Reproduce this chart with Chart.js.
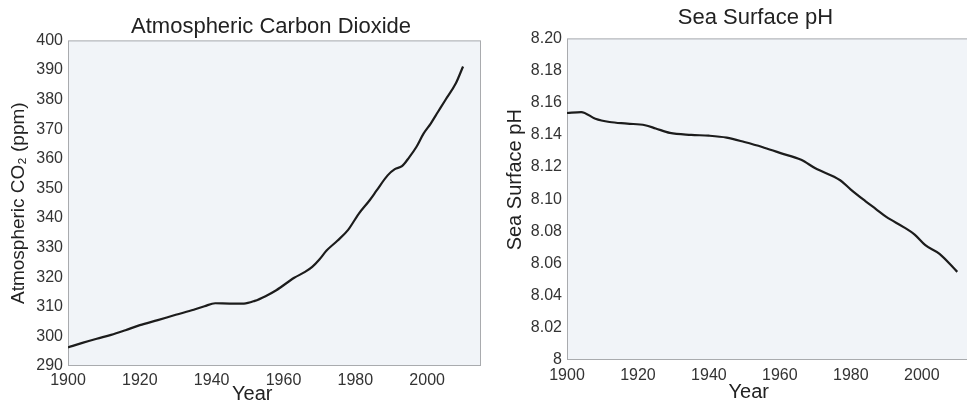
<!DOCTYPE html>
<html>
<head>
<meta charset="utf-8">
<script src="https://cdn.jsdelivr.net/npm/chart.js"></script>
<style>
    html, body {
        margin: 0;
        padding: 0;
        width: 967px;
        height: 404px;
        overflow: hidden;
        background: #fff;
    }
    .panel {
        position: absolute;
        top: 0;
        height: 404px;
    }
    #co2-panel { left: 0; width: 490px; }
    #ph-panel { left: 487px; width: 490px; }
</style>
</head>
<body>
<div class="panel" id="co2-panel"><canvas id="co2-plot"></canvas></div>
<div class="panel" id="ph-panel"><canvas id="ph-plot"></canvas></div>
<script>
const co2Years = [1900, 1904, 1908, 1912, 1916, 1920, 1925, 1930, 1935, 1938, 1941, 1945, 1949, 1952, 1955, 1958,
    1963, 1966, 1968, 1970, 1972, 1975, 1978, 1981, 1984, 1986, 1989, 1991, 1993, 1995, 1997, 1999, 2001, 2003,
    2005, 2008, 2010];
const co2Values = [296.3, 297.8, 299.2, 300.5, 302.1, 303.8, 305.5, 307.3, 309.0, 310.2, 311.2, 311.1, 311.1, 312.0,
    313.6, 315.6, 319.8, 321.8, 323.5, 326.0, 329.0, 332.3, 336.0, 341.5, 346.0, 349.4, 354.4, 356.5, 357.5, 360.5,
    364.0, 368.5, 371.9, 375.8, 379.7, 385.5, 391.2];

const phYears = [1900, 1904, 1908, 1912, 1917, 1922, 1925, 1929, 1935, 1940, 1945, 1950, 1955, 1960, 1966, 1970,
    1977, 1980, 1984, 1987, 1990, 1995, 1998, 2001, 2005, 2010];
const phValues = [8.1536, 8.1542, 8.150, 8.148, 8.147, 8.146, 8.144, 8.1412, 8.1400, 8.1395, 8.1383, 8.1356, 8.1325,
    8.1288, 8.1245, 8.1192, 8.1118, 8.1060, 8.099, 8.094, 8.089, 8.0825, 8.078, 8.0714, 8.066, 8.0548];

const yearTicks = [1900, 1920, 1940, 1960, 1980, 2000];

const FONT = "'Liberation Sans', Arial, sans-serif";
const TEXT = "#333";

// plot area background + frame
const plotFrame = {
    id: "plotFrame",
    beforeDatasetsDraw(chart) {
        const {ctx, chartArea: a} = chart;
        ctx.save();
        ctx.fillStyle = "#f1f4f8";
        ctx.fillRect(a.left, a.top, a.right - a.left, a.bottom - a.top);
        ctx.strokeStyle = "#a9abae";
        ctx.lineWidth = 1;
        ctx.strokeRect(a.left + 0.5, a.top + 0.5, a.right - a.left - 1, a.bottom - a.top - 1);
        ctx.restore();
    }
};

function makeChart(id, years, values, opts) {
    return new Chart(document.getElementById(id), {
        type: "line",
        data: {
            datasets: [{
                data: years.map((y, i) => ({x: y, y: values[i]})),
                borderColor: "#1c1c1c",
                borderWidth: 2.2,
                pointRadius: 0,
                tension: 0.3,
                cubicInterpolationMode: "monotone",
                fill: false,
            }]
        },
        options: {
            responsive: true,
            maintainAspectRatio: false,
            animation: false,
            layout: {padding: {left: 0, right: opts.padRight, top: 0, bottom: 0}},
            plugins: {
                legend: {display: false},
                tooltip: {enabled: false},
                title: {
                    display: true,
                    text: opts.title,
                    color: "#222",
                    font: {family: FONT, size: 22, weight: "normal", lineHeight: 1.2},
                    padding: opts.titlePad,
                },
            },
            scales: {
                x: {
                    type: "linear",
                    min: 1900,
                    max: 2015,
                    afterBuildTicks: (scale) => {
                        scale.ticks = yearTicks.map(v => ({value: v}));
                    },
                    afterFit: (scale) => { scale.height = opts.xHeight; },
                    grid: {display: false, drawTicks: false},
                    border: {display: false},
                    ticks: {
                        color: TEXT,
                        padding: opts.xTickPad,
                        maxRotation: 0,
                        autoSkip: false,
                        font: {family: FONT, size: 16},
                        callback: (v) => String(v),
                    },
                    title: {
                        display: true,
                        // trailing spaces nudge the label left of centre, as in the original
                        text: "Year        ",
                        color: "#222",
                        font: {family: FONT, size: 20, lineHeight: 1},
                        padding: {top: 0, bottom: opts.yearPad},
                    },
                },
                y: {
                    min: opts.yMin,
                    max: opts.yMax,
                    afterFit: (scale) => { scale.width = opts.yWidth; },
                    grid: {display: false, drawTicks: false},
                    border: {display: false},
                    ticks: {
                        stepSize: opts.yStep,
                        color: TEXT,
                        padding: 5,
                        font: {family: FONT, size: 16},
                        callback: opts.yFormat,
                    },
                    title: {
                        display: true,
                        text: opts.yLabel,
                        color: "#222",
                        font: {family: FONT, size: opts.yLabelSize, lineHeight: 1.2},
                        padding: {top: opts.yLabelPad, bottom: 0},
                    },
                },
            },
        },
        plugins: [plotFrame],
    });
}

makeChart("co2-plot", co2Years, co2Values, {
    // leading spaces push the title over the plot, as in the original
    title: "          Atmospheric Carbon Dioxide",
    titlePad: {top: 14, bottom: 0},
    padRight: 9,
    xHeight: 38,
    xTickPad: 5,
    yearPad: 0,
    yMin: 290,
    yMax: 400,
    yStep: 10,
    yWidth: 68,
    yLabel: "Atmospheric CO\u2082 (ppm)",
    yLabelSize: 19,
    yLabelPad: 7,
    yFormat: (v) => String(v),
});

makeChart("ph-plot", phYears, phValues, {
    title: "        Sea Surface pH",
    titlePad: {top: 5, bottom: 7},
    padRight: 2,
    xHeight: 44,
    xTickPad: 6,
    yearPad: 2,
    yMin: 8,
    yMax: 8.2,
    yStep: 0.02,
    yWidth: 80,
    // leading spaces lift the rotated label above centre, as in the original
    yLabel: "       Sea Surface pH",
    yLabelSize: 20,
    yLabelPad: 16,
    yFormat: (v) => (Math.abs(v - 8) < 1e-9 ? "8" : v.toFixed(2)),
});
</script>
</body>
</html>
